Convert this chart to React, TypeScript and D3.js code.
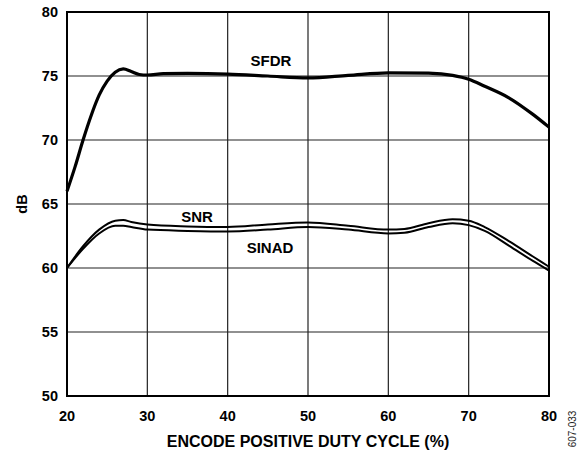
import { useEffect, useRef } from "react";
import * as d3 from "d3";

// duty cycle (%) vs dB
const sfdrX = [20, 21, 22, 23, 24, 25, 26, 27, 28, 29, 30, 32, 35, 40, 45, 50, 55, 60, 65, 68, 70, 72, 75, 78, 80];
const sfdrY = [66.0, 67.9, 70.0, 71.9, 73.5, 74.6, 75.3, 75.55, 75.35, 75.12, 75.08, 75.18, 75.2, 75.15, 75.0, 74.85, 75.05, 75.25, 75.22, 75.05, 74.75, 74.2, 73.3, 72.0, 71.0];

const snrX = [20, 22, 24, 26, 27, 28, 30, 35, 40, 45, 50, 55, 60, 62, 65, 68, 70, 72, 75, 78, 80];
const snrY = [60.0, 61.7, 63.0, 63.7, 63.75, 63.6, 63.4, 63.25, 63.2, 63.4, 63.55, 63.3, 63.0, 63.05, 63.5, 63.8, 63.7, 63.2, 62.1, 60.9, 60.1];
const sinadY = [60.0, 61.5, 62.7, 63.3, 63.3, 63.2, 63.0, 62.9, 62.85, 63.0, 63.2, 63.0, 62.7, 62.75, 63.2, 63.5, 63.35, 62.9, 61.75, 60.55, 59.8];

const xTicks = [20, 30, 40, 50, 60, 70, 80];
const yTicks = [50, 55, 60, 65, 70, 75, 80];

export default function App() {
  const svgRef = useRef<SVGSVGElement | null>(null);

  useEffect(() => {
    if (!svgRef.current) return;

    const width = 583;
    const height = 452;
    const margin = { top: 12, right: 34, bottom: 56, left: 67 };
    const font = "'Liberation Sans', Arial, Helvetica, sans-serif";

    const svg = d3.select(svgRef.current);
    svg.selectAll("*").remove();

    const x = d3.scaleLinear().domain([20, 80]).range([margin.left, width - margin.right]);
    const y = d3.scaleLinear().domain([50, 80]).range([height - margin.bottom, margin.top]);

    // grid
    const grid = svg.append("g").attr("stroke", "#222").attr("stroke-width", 1.2);
    grid
      .selectAll("line.v")
      .data(xTicks)
      .join("line")
      .attr("class", "v")
      .attr("x1", (d) => x(d))
      .attr("x2", (d) => x(d))
      .attr("y1", y(50))
      .attr("y2", y(80));
    grid
      .selectAll("line.h")
      .data(yTicks)
      .join("line")
      .attr("class", "h")
      .attr("x1", x(20))
      .attr("x2", x(80))
      .attr("y1", (d) => y(d))
      .attr("y2", (d) => y(d));

    // frame
    svg
      .append("rect")
      .attr("x", x(20))
      .attr("y", y(80))
      .attr("width", x(80) - x(20))
      .attr("height", y(50) - y(80))
      .attr("fill", "none")
      .attr("stroke", "#000")
      .attr("stroke-width", 2);

    const line = d3
      .line<[number, number]>()
      .x((d) => x(d[0]))
      .y((d) => y(d[1]))
      .curve(d3.curveMonotoneX);

    const series = [
      { xs: sfdrX, ys: sfdrY, w: 3.2 },
      { xs: snrX, ys: snrY, w: 2 },
      { xs: snrX, ys: sinadY, w: 2 },
    ];
    series.forEach((s) => {
      svg
        .append("path")
        .attr("d", line(s.xs.map((v, i) => [v, s.ys[i]] as [number, number])))
        .attr("fill", "none")
        .attr("stroke", "#000")
        .attr("stroke-width", s.w)
        .attr("stroke-linejoin", "round");
    });

    // tick labels
    svg
      .append("g")
      .selectAll("text")
      .data(yTicks)
      .join("text")
      .attr("x", margin.left - 9)
      .attr("y", (d) => y(d) + 5)
      .attr("text-anchor", "end")
      .attr("font-family", font)
      .attr("font-weight", "bold")
      .attr("font-size", 14.5)
      .text((d) => d);

    svg
      .append("g")
      .selectAll("text")
      .data(xTicks)
      .join("text")
      .attr("x", (d) => x(d))
      .attr("y", height - margin.bottom + 25)
      .attr("text-anchor", "middle")
      .attr("font-family", font)
      .attr("font-weight", "bold")
      .attr("font-size", 14.5)
      .text((d) => d);

    // axis titles
    svg
      .append("text")
      .attr("x", (x(20) + x(80)) / 2)
      .attr("y", 447)
      .attr("text-anchor", "middle")
      .attr("font-family", font)
      .attr("font-weight", "bold")
      .attr("font-size", 16)
      .text("ENCODE POSITIVE DUTY CYCLE (%)");

    svg
      .append("text")
      .attr("transform", `translate(27, ${(y(50) + y(80)) / 2}) rotate(-90)`)
      .attr("text-anchor", "middle")
      .attr("font-family", font)
      .attr("font-weight", "bold")
      .attr("font-size", 14.5)
      .text("dB");

    // series labels
    const labels = [
      { t: "SFDR", cx: 271, cy: 66 },
      { t: "SNR", cx: 197, cy: 222 },
      { t: "SINAD", cx: 270, cy: 253 },
    ];
    labels.forEach((l) => {
      svg
        .append("text")
        .attr("x", l.cx)
        .attr("y", l.cy)
        .attr("text-anchor", "middle")
        .attr("font-family", font)
        .attr("font-weight", "bold")
        .attr("font-size", 15)
        .text(l.t);
    });

    svg
      .append("text")
      .attr("transform", `translate(576, 429) rotate(-90)`)
      .attr("text-anchor", "middle")
      .attr("font-family", font)
      .attr("font-size", 10)
      .attr("fill", "#222")
      .text("607-033");
  }, []);

  return (
    <div style={{ position: "absolute", left: 0, top: 0 }}>
      <svg ref={svgRef} width={583} height={452} style={{ display: "block" }}></svg>
    </div>
  );
}
